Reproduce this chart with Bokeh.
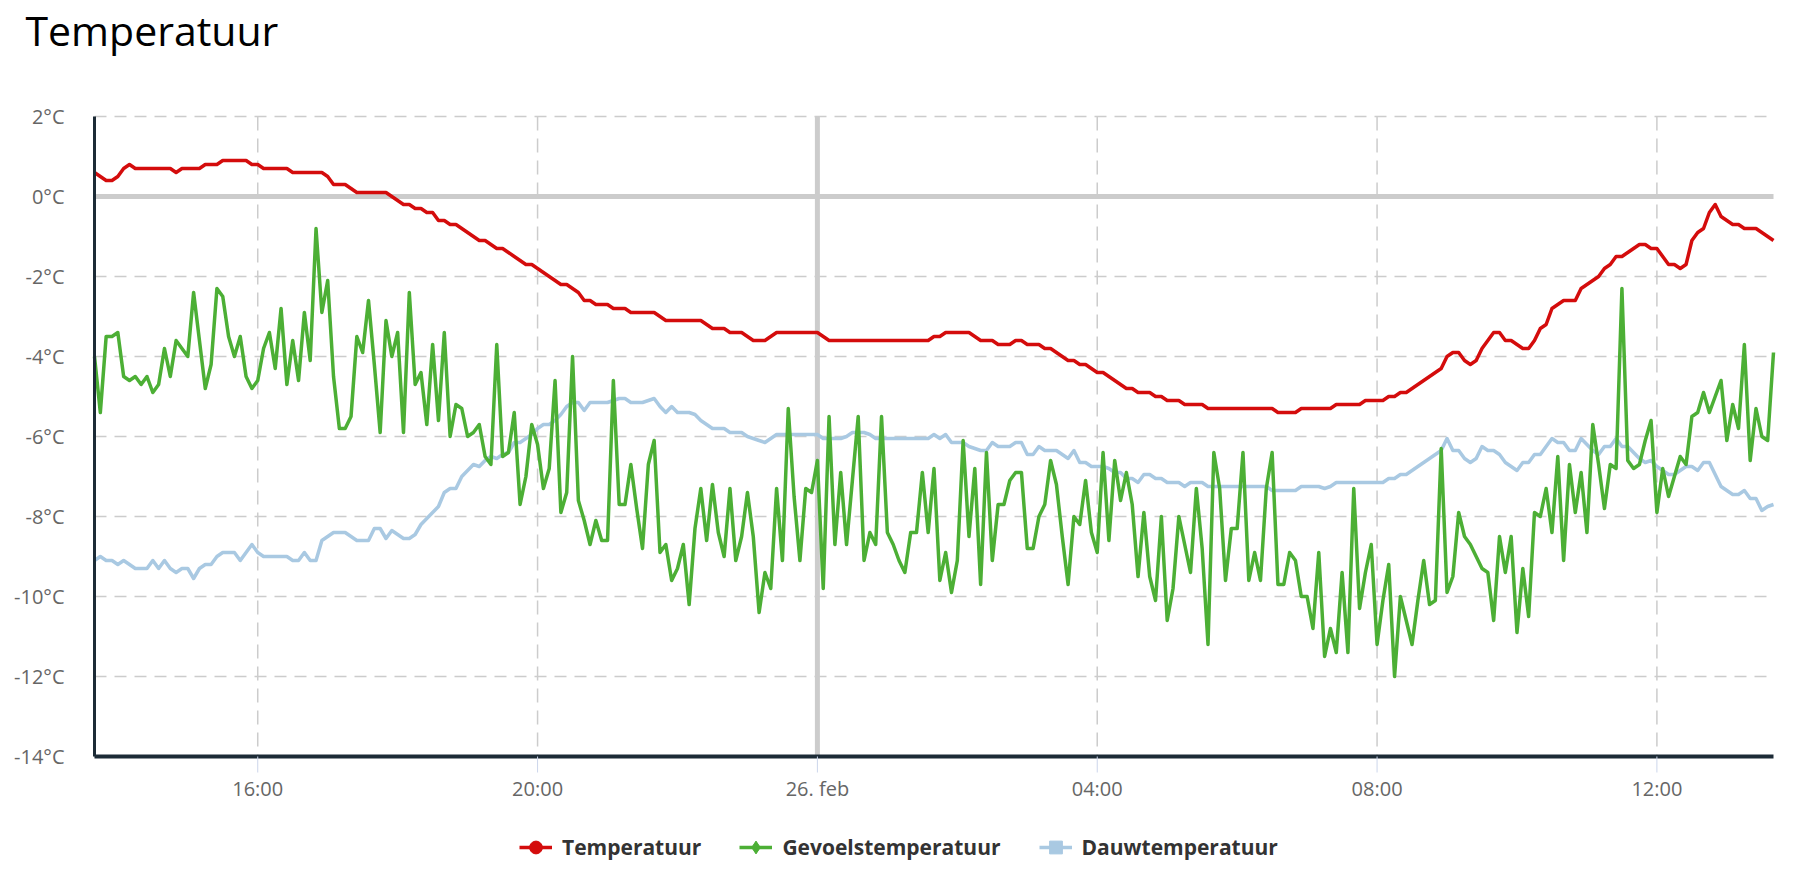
import math
import pandas as pd
from bokeh.plotting import figure
from bokeh.models import (ColumnDataSource, Range1d, Legend, LegendItem, Label, Grid)
from bokeh.core.properties import value
from bokeh.embed import file_html
from bokeh.resources import INLINE

# ---------------- data (5-minute readings, 25 feb 13:40 -> 26 feb 13:40) ----------------
start_time = "2018-02-25 13:40"
step = "5min"

temperatuur = [
    0.6, 0.5, 0.4, 0.4, 0.5, 0.7, 0.8, 0.7, 0.7, 0.7, 0.7, 0.7,
    0.7, 0.7, 0.6, 0.7, 0.7, 0.7, 0.7, 0.8, 0.8, 0.8, 0.9, 0.9,
    0.9, 0.9, 0.9, 0.8, 0.8, 0.7, 0.7, 0.7, 0.7, 0.7, 0.6, 0.6,
    0.6, 0.6, 0.6, 0.6, 0.5, 0.3, 0.3, 0.3, 0.2, 0.1, 0.1, 0.1,
    0.1, 0.1, 0.1, 0.0, -0.1, -0.2, -0.2, -0.3, -0.3, -0.4, -0.4, -0.6,
    -0.6, -0.7, -0.7, -0.8, -0.9, -1.0, -1.1, -1.1, -1.2, -1.3, -1.3, -1.4,
    -1.5, -1.6, -1.7, -1.7, -1.8, -1.9, -2.0, -2.1, -2.2, -2.2, -2.3, -2.4,
    -2.6, -2.6, -2.7, -2.7, -2.7, -2.8, -2.8, -2.8, -2.9, -2.9, -2.9, -2.9,
    -2.9, -3.0, -3.1, -3.1, -3.1, -3.1, -3.1, -3.1, -3.1, -3.2, -3.3, -3.3,
    -3.3, -3.4, -3.4, -3.4, -3.5, -3.6, -3.6, -3.6, -3.5, -3.4, -3.4, -3.4,
    -3.4, -3.4, -3.4, -3.4, -3.4, -3.5, -3.6, -3.6, -3.6, -3.6, -3.6, -3.6,
    -3.6, -3.6, -3.6, -3.6, -3.6, -3.6, -3.6, -3.6, -3.6, -3.6, -3.6, -3.6,
    -3.5, -3.5, -3.4, -3.4, -3.4, -3.4, -3.4, -3.5, -3.6, -3.6, -3.6, -3.7,
    -3.7, -3.7, -3.6, -3.6, -3.7, -3.7, -3.7, -3.8, -3.8, -3.9, -4.0, -4.1,
    -4.1, -4.2, -4.2, -4.3, -4.4, -4.4, -4.5, -4.6, -4.7, -4.8, -4.8, -4.9,
    -4.9, -4.9, -5.0, -5.0, -5.1, -5.1, -5.1, -5.2, -5.2, -5.2, -5.2, -5.3,
    -5.3, -5.3, -5.3, -5.3, -5.3, -5.3, -5.3, -5.3, -5.3, -5.3, -5.3, -5.4,
    -5.4, -5.4, -5.4, -5.3, -5.3, -5.3, -5.3, -5.3, -5.3, -5.2, -5.2, -5.2,
    -5.2, -5.2, -5.1, -5.1, -5.1, -5.1, -5.0, -5.0, -4.9, -4.9, -4.8, -4.7,
    -4.6, -4.5, -4.4, -4.3, -4.0, -3.9, -3.9, -4.1, -4.2, -4.1, -3.8, -3.6,
    -3.4, -3.4, -3.6, -3.6, -3.7, -3.8, -3.8, -3.6, -3.3, -3.2, -2.8, -2.7,
    -2.6, -2.6, -2.6, -2.3, -2.2, -2.1, -2.0, -1.8, -1.7, -1.5, -1.5, -1.4,
    -1.3, -1.2, -1.2, -1.3, -1.3, -1.5, -1.7, -1.7, -1.8, -1.7, -1.1, -0.9,
    -0.8, -0.4, -0.2, -0.5, -0.6, -0.7, -0.7, -0.8, -0.8, -0.8, -0.9, -1.0,
    -1.1,
]

gevoelstemperatuur = [
    -4.0, -5.4, -3.5, -3.5, -3.4, -4.5, -4.6, -4.5, -4.7, -4.5, -4.9, -4.7,
    -3.8, -4.5, -3.6, -3.8, -4.0, -2.4, -3.6, -4.8, -4.2, -2.3, -2.5, -3.5,
    -4.0, -3.5, -4.5, -4.8, -4.6, -3.8, -3.4, -4.3, -2.8, -4.7, -3.6, -4.6,
    -2.9, -4.1, -0.8, -2.9, -2.1, -4.5, -5.8, -5.8, -5.5, -3.5, -3.9, -2.6,
    -4.2, -5.9, -3.1, -4.0, -3.4, -5.9, -2.4, -4.7, -4.4, -5.7, -3.7, -5.6,
    -3.4, -6.0, -5.2, -5.3, -6.0, -5.9, -5.7, -6.5, -6.7, -3.7, -6.5, -6.4,
    -5.4, -7.7, -7.0, -5.7, -6.2, -7.3, -6.8, -4.6, -7.9, -7.4, -4.0, -7.6,
    -8.1, -8.7, -8.1, -8.6, -8.6, -4.6, -7.7, -7.7, -6.7, -7.8, -8.8, -6.7,
    -6.1, -8.9, -8.7, -9.6, -9.3, -8.7, -10.2, -8.3, -7.3, -8.6, -7.2, -8.4,
    -9.0, -7.3, -9.1, -8.5, -7.4, -8.5, -10.4, -9.4, -9.8, -7.3, -9.1, -5.3,
    -7.5, -9.1, -7.3, -7.4, -6.6, -9.8, -5.5, -8.7, -6.9, -8.7, -7.1, -5.5,
    -9.1, -8.4, -8.7, -5.5, -8.4, -8.7, -9.1, -9.4, -8.4, -8.4, -6.9, -8.4,
    -6.8, -9.6, -8.9, -9.9, -9.1, -6.1, -8.5, -6.8, -9.7, -6.4, -9.1, -7.7,
    -7.7, -7.1, -6.9, -6.9, -8.8, -8.8, -8.0, -7.7, -6.6, -7.2, -8.5, -9.7,
    -8.0, -8.2, -7.1, -8.4, -8.9, -6.4, -8.6, -6.6, -7.6, -6.9, -7.7, -9.5,
    -7.9, -9.5, -10.1, -8.0, -10.6, -9.8, -8.0, -8.7, -9.4, -7.3, -8.8, -11.2,
    -6.4, -7.3, -9.6, -8.3, -8.3, -6.4, -9.6, -8.9, -9.6, -7.3, -6.4, -9.7,
    -9.7, -8.9, -9.1, -10.0, -10.0, -10.8, -8.9, -11.5, -10.8, -11.4, -9.4, -11.4,
    -7.3, -10.3, -9.4, -8.7, -11.2, -10.1, -9.2, -12.0, -10.0, -10.6, -11.2, -10.1,
    -9.1, -10.2, -10.1, -6.3, -9.9, -9.5, -7.9, -8.5, -8.7, -9.0, -9.3, -9.4,
    -10.6, -8.5, -9.4, -8.5, -10.9, -9.3, -10.5, -7.9, -8.0, -7.3, -8.4, -6.5,
    -9.1, -6.7, -7.9, -6.9, -8.4, -5.7, -6.7, -7.8, -6.7, -6.8, -2.3, -6.6,
    -6.8, -6.7, -6.1, -5.6, -7.9, -6.8, -7.5, -7.0, -6.5, -6.7, -5.5, -5.4,
    -4.9, -5.4, -5.0, -4.6, -6.1, -5.2, -5.8, -3.7, -6.6, -5.3, -6.0, -6.1,
    -3.9,
]

dauwtemperatuur = [
    -9.1, -9.0, -9.1, -9.1, -9.2, -9.1, -9.2, -9.3, -9.3, -9.3, -9.1, -9.3,
    -9.1, -9.3, -9.4, -9.3, -9.3, -9.55, -9.3, -9.2, -9.2, -9.0, -8.9, -8.9,
    -8.9, -9.1, -8.9, -8.7, -8.9, -9.0, -9.0, -9.0, -9.0, -9.0, -9.1, -9.1,
    -8.9, -9.1, -9.1, -8.6, -8.5, -8.4, -8.4, -8.4, -8.5, -8.6, -8.6, -8.6,
    -8.3, -8.3, -8.55, -8.35, -8.45, -8.55, -8.55, -8.45, -8.2, -8.05, -7.9, -7.75,
    -7.4, -7.3, -7.3, -7.0, -6.85, -6.7, -6.75, -6.6, -6.5, -6.55, -6.45, -6.4,
    -6.15, -6.15, -6.05, -5.95, -5.8, -5.7, -5.7, -5.6, -5.45, -5.25, -5.15, -5.15,
    -5.35, -5.15, -5.15, -5.15, -5.15, -5.1, -5.05, -5.05, -5.15, -5.15, -5.15, -5.1,
    -5.05, -5.25, -5.4, -5.25, -5.4, -5.4, -5.4, -5.45, -5.6, -5.7, -5.8, -5.8,
    -5.8, -5.9, -5.9, -5.9, -6.0, -6.05, -6.1, -6.15, -6.05, -5.95, -5.95, -5.95,
    -5.95, -5.95, -5.95, -5.95, -5.95, -6.05, -6.05, -6.05, -6.05, -6.0, -5.9, -5.9,
    -5.9, -5.95, -6.05, -6.05, -6.05, -6.05, -6.05, -6.05, -6.05, -6.05, -6.05, -6.05,
    -5.95, -6.05, -5.95, -6.15, -6.15, -6.15, -6.25, -6.3, -6.35, -6.35, -6.15, -6.25,
    -6.25, -6.25, -6.15, -6.15, -6.45, -6.45, -6.25, -6.35, -6.35, -6.35, -6.45, -6.55,
    -6.35, -6.65, -6.65, -6.75, -6.75, -6.75, -6.8, -6.9, -6.9, -7.05, -7.05, -7.15,
    -6.95, -6.95, -7.05, -7.05, -7.15, -7.15, -7.15, -7.25, -7.15, -7.15, -7.15, -7.25,
    -7.25, -7.25, -7.25, -7.25, -7.25, -7.25, -7.25, -7.25, -7.25, -7.25, -7.35, -7.35,
    -7.35, -7.35, -7.35, -7.25, -7.25, -7.25, -7.25, -7.3, -7.25, -7.15, -7.15, -7.15,
    -7.15, -7.15, -7.15, -7.15, -7.15, -7.15, -7.05, -7.05, -6.95, -6.95, -6.85, -6.75,
    -6.65, -6.55, -6.45, -6.35, -6.05, -6.35, -6.35, -6.55, -6.65, -6.55, -6.25, -6.35,
    -6.35, -6.45, -6.65, -6.75, -6.85, -6.65, -6.65, -6.45, -6.45, -6.25, -6.05, -6.15,
    -6.15, -6.35, -6.35, -6.05, -6.2, -6.35, -6.45, -6.25, -6.25, -6.05, -6.25, -6.25,
    -6.4, -6.55, -6.65, -6.6, -6.75, -6.85, -6.95, -6.95, -6.85, -6.75, -6.75, -6.85,
    -6.65, -6.65, -6.95, -7.25, -7.35, -7.45, -7.45, -7.35, -7.55, -7.55, -7.85, -7.75,
    -7.7,
]

y_ticks = [-14, -12, -10, -8, -6, -4, -2, 0, 2]
y_tick_labels = ["-14°C", "-12°C", "-10°C", "-8°C", "-6°C", "-4°C", "-2°C", "0°C", "2°C"]
x_tick_times = ["2018-02-25 16:00", "2018-02-25 20:00", "2018-02-26 00:00",
                "2018-02-26 04:00", "2018-02-26 08:00", "2018-02-26 12:00"]
x_tick_labels = ["16:00", "20:00", "26. feb", "04:00", "08:00", "12:00"]
zero_line = 0
day_boundary = "2018-02-26 00:00"
title_text = "Temperatuur"

series_names = ["Temperatuur", "Gevoelstemperatuur", "Dauwtemperatuur"]
series_colors = ["#d40c0c", "#4caf35", "#a9c9e2"]
series_markers = ["circle", "diamond", "square"]

# ---------------- layout constants (pixels) ----------------
W, H = 1800, 880
PLOT_L, PLOT_R, PLOT_T, PLOT_B = 94, 1773, 116, 756
FONT = "Open Sans"
GRID_COLOR = "#cccccc"
AXIS_COLOR = "#1c2b36"
LABEL_COLOR = "#666666"

# ---------------- build ----------------
n = len(temperatuur)
times = pd.date_range(start_time, periods=n, freq=step)
src = ColumnDataSource(dict(t=times, temp=temperatuur[:n],
                            gevoel=gevoelstemperatuur[:n], dauw=dauwtemperatuur[:n]))

def to_ms(s):
    return pd.Timestamp(s).value / 1e6

t0 = times[0].value / 1e6
t1 = times[-1].value / 1e6
ms_per_px = (t1 - t0) / (PLOT_R - PLOT_L)
y_min, y_max = y_ticks[0], y_ticks[-1]
px_per_deg = (PLOT_B - PLOT_T) / (y_max - y_min)

x_range = Range1d(t0 - PLOT_L * ms_per_px, t1 + (W - PLOT_R) * ms_per_px)
y_range = Range1d(y_min - (H - PLOT_B) / px_per_deg, y_max + PLOT_T / px_per_deg)

tick_ms = [to_ms(s) for s in x_tick_times]
midnight = to_ms(day_boundary)

p = figure(width=W, height=H, x_axis_type="datetime",
           x_axis_location=None, y_axis_location=None,
           output_backend="svg", toolbar_location=None,
           x_range=x_range, y_range=y_range,
           min_border_left=0, min_border_right=0, min_border_top=0, min_border_bottom=0)
p.min_border = 0
p.outline_line_color = None
p.background_fill_color = "white"
p.border_fill_color = "white"
for r in list(p.center):
    if isinstance(r, Grid):
        r.visible = False

# horizontal dashed grid lines
p.segment(x0=[t0] * len(y_ticks), y0=y_ticks, x1=[t1] * len(y_ticks), y1=y_ticks,
          line_color=GRID_COLOR, line_width=1.5, line_dash="12 8")
# vertical dashed grid lines
p.segment(x0=tick_ms, y0=[y_max] * len(tick_ms), x1=tick_ms, y1=[y_min] * len(tick_ms),
          line_color=GRID_COLOR, line_width=1.5, line_dash="14 8")
# zero line and day boundary
p.segment(x0=[t0], y0=[zero_line], x1=[t1], y1=[zero_line], line_color=GRID_COLOR, line_width=5)
p.segment(x0=[midnight], y0=[y_min], x1=[midnight], y1=[y_max], line_color=GRID_COLOR, line_width=5)

# series (dew point below, then feels-like, then temperature on top)
LW = 3.5
r_d = p.line("t", "dauw", source=src, line_color=series_colors[2], line_width=LW, line_join="round")
r_g = p.line("t", "gevoel", source=src, line_color=series_colors[1], line_width=LW, line_join="round")
r_t = p.line("t", "temp", source=src, line_color=series_colors[0], line_width=LW, line_join="round")

m_t = p.scatter("t", "temp", source=src, marker=series_markers[0],
                color=series_colors[0], visible=False)
m_g = p.scatter("t", "gevoel", source=src, marker=series_markers[1],
                color=series_colors[1], visible=False)
m_d = p.scatter("t", "dauw", source=src, marker=series_markers[2],
                color=series_colors[2], visible=False)

# axis lines
p.segment(x0=[t0], y0=[y_min], x1=[t0], y1=[y_max], line_color=AXIS_COLOR, line_width=3)
p.segment(x0=[t0], y0=[y_min], x1=[t1], y1=[y_min], line_color=AXIS_COLOR, line_width=4)

# x tick marks and labels
p.ray(x=tick_ms, y=[y_min] * len(tick_ms), length=16, length_units="screen",
      angle=-math.pi / 2, line_color="#ccd6eb", line_width=1)
p.text(x=tick_ms, y=[y_min] * len(tick_ms), text=x_tick_labels, y_offset=32,
       text_align="center", text_baseline="middle", text_font=value(FONT),
       text_font_size="20px", text_color=LABEL_COLOR)

# y tick labels
p.text(x=[t0] * len(y_ticks), y=y_ticks, text=y_tick_labels, x_offset=-30,
       text_align="right", text_baseline="middle", text_font=value(FONT),
       text_font_size="20px", text_color=LABEL_COLOR)

# title
p.add_layout(Label(x=25, y=H - 29, x_units="screen", y_units="screen", text=title_text,
                   text_font=FONT, text_font_size="41px", text_color="#000000",
                   text_align="left", text_baseline="alphabetic"))

# legend
legend = Legend(items=[LegendItem(label=series_names[0], renderers=[r_t, m_t]),
                       LegendItem(label=series_names[1], renderers=[r_g, m_g]),
                       LegendItem(label=series_names[2], renderers=[r_d, m_d])],
                orientation="horizontal", location=(519, H - 847 - 16),
                label_text_font=FONT, label_text_font_size="21px",
                label_text_font_style="bold", label_text_color="#333333",
                glyph_width=33, glyph_height=32, label_standoff=10, spacing=38,
                label_height=20, padding=0, margin=0,
                border_line_color=None, background_fill_alpha=0)
p.add_layout(legend)

open("out.html", "w").write(file_html(p, INLINE))
